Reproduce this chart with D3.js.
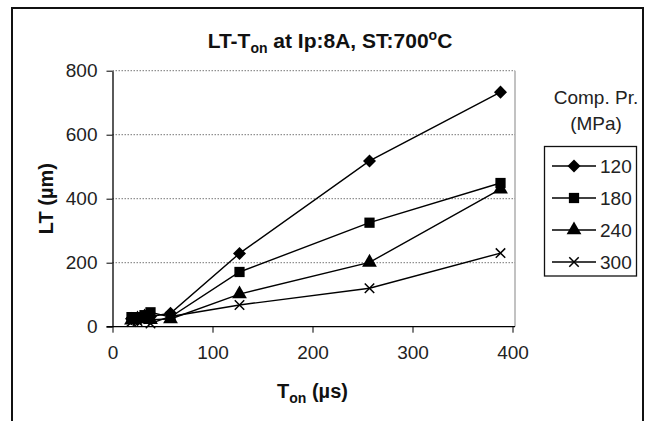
<!doctype html>
<html>
<head>
<script src="https://cdn.jsdelivr.net/npm/d3@7"></script>
<style>
  body { margin: 0; background: #fff; }
  text { font-family: "Liberation Sans", Arial, sans-serif; }
</style>
</head>
<body>
<svg width="645" height="421"></svg>
<script>
// Ton values (µs), shared by every series
const ton = [19, 25, 32, 38, 58, 127, 257, 388];

const seriesNames = ["120", "180", "240", "300"];
const lt120 = [25, 22, 28, 32, 42, 229, 518, 733];
const lt180 = [30, 30, 36, 45, 30, 171, 325, 449];
const lt240 = [20, 24, 30, 22, 24, 102, 201, 430];
const lt300 = [15, 18, 22, 10, 32, 68, 120, 230];

const xTicks = [0, 100, 200, 300, 400];
const yTicks = [0, 200, 400, 600, 800];

const allSeries = [lt120, lt180, lt240, lt300];

const svg = d3.select("svg");

// outer chart border
svg.append("rect")
  .attr("x", 12).attr("y", 8).attr("width", 631).attr("height", 420)
  .attr("fill", "none").attr("stroke", "#111").attr("stroke-width", 2);

const x = d3.scaleLinear().domain([0, 400]).range([112.5, 512.5]);
const y = d3.scaleLinear().domain([0, 800]).range([326.7, 70.7]);

// gridlines
svg.append("g").selectAll("line")
  .data(yTicks.filter(d => d > 0))
  .enter().append("line")
  .attr("x1", x(0)).attr("x2", 515)
  .attr("y1", d => y(d)).attr("y2", d => y(d))
  .attr("stroke", "#777").attr("stroke-width", 1)
  .attr("stroke-dasharray", "1.5,1.5");

// right border of plot area
svg.append("line")
  .attr("x1", 515).attr("x2", 515).attr("y1", y(800)).attr("y2", y(0))
  .attr("stroke", "#999").attr("stroke-width", 1.2);

// axes
const xAxis = svg.append("g")
  .attr("transform", "translate(0," + y(0) + ")")
  .call(d3.axisBottom(x).tickValues(xTicks).tickSize(6).tickPadding(13).tickSizeOuter(0));
xAxis.select(".domain").attr("d", "M" + (x(0) - 6) + ",0H515").attr("stroke", "#000").attr("stroke-width", 1.3);

const yAxis = svg.append("g")
  .attr("transform", "translate(" + x(0) + ",0)")
  .call(d3.axisLeft(y).tickValues(yTicks).tickSize(6).tickPadding(9).tickSizeOuter(0));
yAxis.select(".domain").attr("stroke", "#000").attr("stroke-width", 1.3);

svg.selectAll(".tick text")
  .attr("font-size", 19).attr("fill", "#222")
  .style("font-family", "'Liberation Sans', Arial, sans-serif");
svg.selectAll(".tick line").attr("stroke", "#000");

// square diamond (equal width and height), like the spreadsheet marker
const squareDiamond = {
  draw(context, size) {
    const r = Math.sqrt(size / 2);
    context.moveTo(0, -r);
    context.lineTo(r, 0);
    context.lineTo(0, r);
    context.lineTo(-r, 0);
    context.closePath();
  }
};

// markers
const timesSym = d3.symbolTimes || d3.symbolX || d3.symbolCross;
const symbols = [
  { type: squareDiamond, size: 85, fill: "#000", stroke: "none" },
  { type: d3.symbolSquare, size: 105, fill: "#000", stroke: "none" },
  { type: d3.symbolTriangle, size: 95, fill: "#000", stroke: "none" },
  { type: timesSym, size: 60, fill: "none", stroke: "#000" }
];

const line = d3.line().x(d => x(d[0])).y(d => y(d[1]));

allSeries.forEach((vals, i) => {
  const pts = ton.map((t, j) => [t, vals[j]]);
  svg.append("path")
    .datum(pts)
    .attr("d", line)
    .attr("fill", "none").attr("stroke", "#000").attr("stroke-width", 1.4);
  svg.append("g").selectAll("path")
    .data(pts).enter().append("path")
    .attr("transform", d => "translate(" + x(d[0]) + "," + y(d[1]) + ")")
    .attr("d", d3.symbol().type(symbols[i].type).size(symbols[i].size))
    .attr("fill", symbols[i].fill)
    .attr("stroke", symbols[i].stroke).attr("stroke-width", 1.5);
});

// title
const title = svg.append("text")
  .attr("x", 330).attr("y", 48)
  .attr("text-anchor", "middle")
  .attr("font-size", 21).attr("font-weight", "bold").attr("fill", "#111");
title.append("tspan").text("LT-T");
title.append("tspan").attr("font-size", 14).attr("dy", 5).text("on");
title.append("tspan").attr("dy", -5).text(" at Ip:8A, ST:700");
title.append("tspan").attr("font-size", 14).attr("dy", -8).text("o");
title.append("tspan").attr("dy", 8).text("C");

// x axis title
const xt = svg.append("text")
  .attr("x", 312.5).attr("y", 398)
  .attr("text-anchor", "middle")
  .attr("font-size", 20).attr("font-weight", "bold").attr("fill", "#111");
xt.append("tspan").text("T");
xt.append("tspan").attr("font-size", 14).attr("dy", 5).text("on");
xt.append("tspan").attr("dy", -5).text(" (µs)");

// y axis title
svg.append("text")
  .attr("transform", "translate(53," + y(400) + ") rotate(-90)")
  .attr("text-anchor", "middle")
  .attr("font-size", 20).attr("font-weight", "bold").attr("fill", "#111")
  .text("LT (µm)");

// legend heading
svg.append("text")
  .attr("x", 596).attr("y", 104)
  .attr("text-anchor", "middle").attr("font-size", 19).attr("fill", "#222")
  .text("Comp. Pr.");
svg.append("text")
  .attr("x", 596).attr("y", 130)
  .attr("text-anchor", "middle").attr("font-size", 19).attr("fill", "#222")
  .text("(MPa)");

// legend box
svg.append("rect")
  .attr("x", 544.5).attr("y", 146.5).attr("width", 92).attr("height", 129.5)
  .attr("fill", "#fff").attr("stroke", "#111").attr("stroke-width", 1.3);

const legY = d3.scalePoint().domain(seriesNames).range([166, 262]);
seriesNames.forEach((name, i) => {
  const ly = legY(name);
  svg.append("line")
    .attr("x1", 552).attr("x2", 596).attr("y1", ly).attr("y2", ly)
    .attr("stroke", "#000").attr("stroke-width", 1.4);
  svg.append("path")
    .attr("transform", "translate(574," + ly + ")")
    .attr("d", d3.symbol().type(symbols[i].type).size(symbols[i].size))
    .attr("fill", symbols[i].fill)
    .attr("stroke", symbols[i].stroke).attr("stroke-width", 1.5);
  svg.append("text")
    .attr("x", 600).attr("y", ly + 7)
    .attr("font-size", 19).attr("fill", "#222")
    .text(name);
});
</script>
</body>
</html>
